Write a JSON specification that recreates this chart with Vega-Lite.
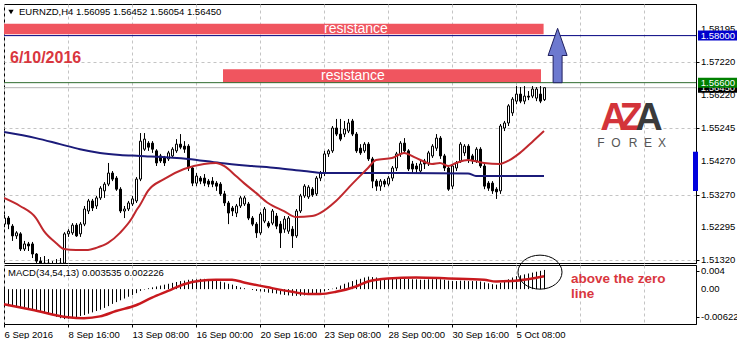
{
"$schema": "https://vega.github.io/schema/vega-lite/v6.json",
"background": "white",
"padding": {"left": -2, "top": 3, "right": -7, "bottom": 0},
"spacing": 2,
"bounds": "flush",
"config": {
 "view": {"stroke": "#000000", "strokeWidth": 1},
 "axis": {"labelFont": "Liberation Sans", "labelFontSize": 9.5, "labelColor": "#000000", "domainColor": "#000000", "tickColor": "#000000", "tickSize": 3, "labelPadding": 2, "gridColor": "#c4c4c4", "gridDash": [3, 3], "gridWidth": 1, "labelOverlap": false, "labelFlush": false, "labelBound": false},
 "scale": {"continuousPadding": 0},
 "text": {"font": "Liberation Sans"}
},
"resolve": {"scale": {"x": "independent", "y": "independent"}, "axis": {"x": "independent", "y": "independent"}},
"datasets": {
 "candles": [
{"i":0,"o":1.5239,"h":1.5266,"l":1.5230,"c":1.5257},
{"i":1,"o":1.5257,"h":1.5263,"l":1.5224,"c":1.5239},
{"i":2,"o":1.5233,"h":1.5239,"l":1.5189,"c":1.5204},
{"i":3,"o":1.5204,"h":1.5218,"l":1.5195,"c":1.5213},
{"i":4,"o":1.5210,"h":1.5215,"l":1.5159,"c":1.5165},
{"i":5,"o":1.5165,"h":1.5189,"l":1.5159,"c":1.5180},
{"i":6,"o":1.5180,"h":1.5186,"l":1.5159,"c":1.5174},
{"i":7,"o":1.5180,"h":1.5186,"l":1.5138,"c":1.5150},
{"i":8,"o":1.5150,"h":1.5153,"l":1.5120,"c":1.5129},
{"i":9,"o":1.5129,"h":1.5141,"l":1.5099,"c":1.5111},
{"i":10,"o":1.5111,"h":1.5144,"l":1.5099,"c":1.5123},
{"i":11,"o":1.5123,"h":1.5135,"l":1.5088,"c":1.5105},
{"i":12,"o":1.5105,"h":1.5129,"l":1.5094,"c":1.5117},
{"i":13,"o":1.5117,"h":1.5135,"l":1.5082,"c":1.5099},
{"i":14,"o":1.5099,"h":1.5138,"l":1.5085,"c":1.5123},
{"i":15,"o":1.5123,"h":1.5215,"l":1.5105,"c":1.5210},
{"i":16,"o":1.5210,"h":1.5224,"l":1.5201,"c":1.5218},
{"i":17,"o":1.5213,"h":1.5242,"l":1.5207,"c":1.5236},
{"i":18,"o":1.5236,"h":1.5242,"l":1.5201,"c":1.5204},
{"i":19,"o":1.5210,"h":1.5245,"l":1.5201,"c":1.5239},
{"i":20,"o":1.5239,"h":1.5293,"l":1.5233,"c":1.5284},
{"i":21,"o":1.5278,"h":1.5314,"l":1.5269,"c":1.5308},
{"i":22,"o":1.5308,"h":1.5314,"l":1.5278,"c":1.5287},
{"i":23,"o":1.5293,"h":1.5323,"l":1.5284,"c":1.5317},
{"i":24,"o":1.5317,"h":1.5352,"l":1.5311,"c":1.5346},
{"i":25,"o":1.5338,"h":1.5364,"l":1.5317,"c":1.5358},
{"i":26,"o":1.5358,"h":1.5421,"l":1.5352,"c":1.5391},
{"i":27,"o":1.5391,"h":1.5397,"l":1.5367,"c":1.5373},
{"i":28,"o":1.5376,"h":1.5382,"l":1.5338,"c":1.5343},
{"i":29,"o":1.5343,"h":1.5349,"l":1.5272,"c":1.5278},
{"i":30,"o":1.5278,"h":1.5293,"l":1.5257,"c":1.5284},
{"i":31,"o":1.5284,"h":1.5308,"l":1.5278,"c":1.5302},
{"i":32,"o":1.5299,"h":1.5323,"l":1.5293,"c":1.5314},
{"i":33,"o":1.5308,"h":1.5379,"l":1.5302,"c":1.5373},
{"i":34,"o":1.5373,"h":1.5510,"l":1.5367,"c":1.5486},
{"i":35,"o":1.5462,"h":1.5510,"l":1.5457,"c":1.5492},
{"i":36,"o":1.5480,"h":1.5486,"l":1.5457,"c":1.5468},
{"i":37,"o":1.5480,"h":1.5486,"l":1.5451,"c":1.5462},
{"i":38,"o":1.5457,"h":1.5462,"l":1.5412,"c":1.5421},
{"i":39,"o":1.5442,"h":1.5448,"l":1.5421,"c":1.5427},
{"i":40,"o":1.5436,"h":1.5442,"l":1.5412,"c":1.5421},
{"i":41,"o":1.5433,"h":1.5457,"l":1.5427,"c":1.5451},
{"i":42,"o":1.5442,"h":1.5468,"l":1.5436,"c":1.5462},
{"i":43,"o":1.5457,"h":1.5492,"l":1.5451,"c":1.5477},
{"i":44,"o":1.5477,"h":1.5507,"l":1.5462,"c":1.5468},
{"i":45,"o":1.5471,"h":1.5486,"l":1.5451,"c":1.5462},
{"i":46,"o":1.5471,"h":1.5477,"l":1.5397,"c":1.5406},
{"i":47,"o":1.5406,"h":1.5412,"l":1.5352,"c":1.5361},
{"i":48,"o":1.5361,"h":1.5391,"l":1.5352,"c":1.5382},
{"i":49,"o":1.5376,"h":1.5382,"l":1.5358,"c":1.5367},
{"i":50,"o":1.5376,"h":1.5388,"l":1.5352,"c":1.5361},
{"i":51,"o":1.5367,"h":1.5373,"l":1.5349,"c":1.5358},
{"i":52,"o":1.5367,"h":1.5379,"l":1.5349,"c":1.5358},
{"i":53,"o":1.5361,"h":1.5367,"l":1.5338,"c":1.5352},
{"i":54,"o":1.5358,"h":1.5364,"l":1.5323,"c":1.5329},
{"i":55,"o":1.5329,"h":1.5338,"l":1.5293,"c":1.5302},
{"i":56,"o":1.5302,"h":1.5308,"l":1.5239,"c":1.5272},
{"i":57,"o":1.5287,"h":1.5293,"l":1.5263,"c":1.5278},
{"i":58,"o":1.5272,"h":1.5299,"l":1.5260,"c":1.5293},
{"i":59,"o":1.5293,"h":1.5323,"l":1.5287,"c":1.5317},
{"i":60,"o":1.5299,"h":1.5323,"l":1.5293,"c":1.5317},
{"i":61,"o":1.5299,"h":1.5305,"l":1.5251,"c":1.5257},
{"i":62,"o":1.5257,"h":1.5263,"l":1.5233,"c":1.5239},
{"i":63,"o":1.5239,"h":1.5245,"l":1.5198,"c":1.5213},
{"i":64,"o":1.5213,"h":1.5275,"l":1.5207,"c":1.5269},
{"i":65,"o":1.5248,"h":1.5290,"l":1.5242,"c":1.5284},
{"i":66,"o":1.5242,"h":1.5248,"l":1.5227,"c":1.5233},
{"i":67,"o":1.5242,"h":1.5284,"l":1.5236,"c":1.5278},
{"i":68,"o":1.5263,"h":1.5272,"l":1.5224,"c":1.5233},
{"i":69,"o":1.5239,"h":1.5248,"l":1.5168,"c":1.5213},
{"i":70,"o":1.5224,"h":1.5263,"l":1.5213,"c":1.5254},
{"i":71,"o":1.5218,"h":1.5263,"l":1.5210,"c":1.5257},
{"i":72,"o":1.5224,"h":1.5233,"l":1.5168,"c":1.5204},
{"i":73,"o":1.5204,"h":1.5284,"l":1.5198,"c":1.5278},
{"i":74,"o":1.5278,"h":1.5329,"l":1.5272,"c":1.5323},
{"i":75,"o":1.5323,"h":1.5358,"l":1.5317,"c":1.5352},
{"i":76,"o":1.5320,"h":1.5355,"l":1.5314,"c":1.5349},
{"i":77,"o":1.5343,"h":1.5349,"l":1.5320,"c":1.5326},
{"i":78,"o":1.5329,"h":1.5382,"l":1.5323,"c":1.5376},
{"i":79,"o":1.5376,"h":1.5397,"l":1.5367,"c":1.5391},
{"i":80,"o":1.5391,"h":1.5457,"l":1.5382,"c":1.5448},
{"i":81,"o":1.5448,"h":1.5462,"l":1.5439,"c":1.5457},
{"i":82,"o":1.5457,"h":1.5531,"l":1.5451,"c":1.5525},
{"i":83,"o":1.5525,"h":1.5552,"l":1.5501,"c":1.5507},
{"i":84,"o":1.5507,"h":1.5552,"l":1.5486,"c":1.5492},
{"i":85,"o":1.5507,"h":1.5546,"l":1.5498,"c":1.5522},
{"i":86,"o":1.5516,"h":1.5552,"l":1.5510,"c":1.5540},
{"i":87,"o":1.5546,"h":1.5552,"l":1.5501,"c":1.5507},
{"i":88,"o":1.5507,"h":1.5513,"l":1.5451,"c":1.5457},
{"i":89,"o":1.5465,"h":1.5477,"l":1.5445,"c":1.5451},
{"i":90,"o":1.5457,"h":1.5483,"l":1.5451,"c":1.5477},
{"i":91,"o":1.5477,"h":1.5483,"l":1.5427,"c":1.5433},
{"i":92,"o":1.5433,"h":1.5439,"l":1.5346,"c":1.5367},
{"i":93,"o":1.5367,"h":1.5373,"l":1.5338,"c":1.5352},
{"i":94,"o":1.5352,"h":1.5373,"l":1.5338,"c":1.5367},
{"i":95,"o":1.5367,"h":1.5373,"l":1.5349,"c":1.5358},
{"i":96,"o":1.5358,"h":1.5382,"l":1.5352,"c":1.5376},
{"i":97,"o":1.5376,"h":1.5412,"l":1.5367,"c":1.5406},
{"i":98,"o":1.5406,"h":1.5454,"l":1.5397,"c":1.5448},
{"i":99,"o":1.5448,"h":1.5486,"l":1.5439,"c":1.5480},
{"i":100,"o":1.5480,"h":1.5495,"l":1.5451,"c":1.5457},
{"i":101,"o":1.5457,"h":1.5462,"l":1.5397,"c":1.5403},
{"i":102,"o":1.5418,"h":1.5427,"l":1.5391,"c":1.5403},
{"i":103,"o":1.5412,"h":1.5421,"l":1.5391,"c":1.5403},
{"i":104,"o":1.5397,"h":1.5427,"l":1.5391,"c":1.5418},
{"i":105,"o":1.5427,"h":1.5433,"l":1.5403,"c":1.5418},
{"i":106,"o":1.5418,"h":1.5457,"l":1.5412,"c":1.5451},
{"i":107,"o":1.5442,"h":1.5477,"l":1.5436,"c":1.5471},
{"i":108,"o":1.5465,"h":1.5507,"l":1.5457,"c":1.5495},
{"i":109,"o":1.5495,"h":1.5501,"l":1.5433,"c":1.5442},
{"i":110,"o":1.5442,"h":1.5448,"l":1.5397,"c":1.5406},
{"i":111,"o":1.5406,"h":1.5412,"l":1.5338,"c":1.5343},
{"i":112,"o":1.5352,"h":1.5418,"l":1.5343,"c":1.5412},
{"i":113,"o":1.5406,"h":1.5427,"l":1.5397,"c":1.5421},
{"i":114,"o":1.5427,"h":1.5483,"l":1.5421,"c":1.5477},
{"i":115,"o":1.5451,"h":1.5477,"l":1.5442,"c":1.5471},
{"i":116,"o":1.5471,"h":1.5477,"l":1.5421,"c":1.5433},
{"i":117,"o":1.5442,"h":1.5448,"l":1.5418,"c":1.5427},
{"i":118,"o":1.5427,"h":1.5468,"l":1.5421,"c":1.5462},
{"i":119,"o":1.5462,"h":1.5468,"l":1.5406,"c":1.5412},
{"i":120,"o":1.5412,"h":1.5418,"l":1.5343,"c":1.5352},
{"i":121,"o":1.5361,"h":1.5367,"l":1.5338,"c":1.5346},
{"i":122,"o":1.5361,"h":1.5367,"l":1.5329,"c":1.5338},
{"i":123,"o":1.5343,"h":1.5349,"l":1.5314,"c":1.5335},
{"i":124,"o":1.5338,"h":1.5537,"l":1.5329,"c":1.5531},
{"i":125,"o":1.5525,"h":1.5546,"l":1.5516,"c":1.5540},
{"i":126,"o":1.5540,"h":1.5596,"l":1.5531,"c":1.5591},
{"i":127,"o":1.5570,"h":1.5617,"l":1.5561,"c":1.5611},
{"i":128,"o":1.5605,"h":1.5650,"l":1.5596,"c":1.5626},
{"i":129,"o":1.5626,"h":1.5647,"l":1.5599,"c":1.5605},
{"i":130,"o":1.5605,"h":1.5650,"l":1.5596,"c":1.5620},
{"i":131,"o":1.5620,"h":1.5635,"l":1.5608,"c":1.5617},
{"i":132,"o":1.5620,"h":1.5650,"l":1.5614,"c":1.5641},
{"i":133,"o":1.5614,"h":1.5647,"l":1.5605,"c":1.5641},
{"i":134,"o":1.5626,"h":1.5650,"l":1.5599,"c":1.5605},
{"i":135,"o":1.56095,"h":1.56452,"l":1.56054,"c":1.5645}
 ],
 "maLong": [
{"i":0,"v":1.5513},{"i":8,"v":1.5495},{"i":14,"v":1.5477},{"i":19,"v":1.5462},{"i":24,"v":1.5451},{"i":29,"v":1.5445},{"i":34,"v":1.5442},{"i":46,"v":1.5433},{"i":54,"v":1.5421},{"i":62,"v":1.5412},{"i":68,"v":1.5406},{"i":75,"v":1.5397},{"i":80,"v":1.5391},{"i":100,"v":1.5391},{"i":116,"v":1.5390},{"i":118,"v":1.5382},{"i":135,"v":1.5382}
 ],
 "maShort": [
{"i":0,"v":1.5317},{"i":4,"v":1.5293},{"i":8,"v":1.5257},{"i":10,"v":1.5218},{"i":13,"v":1.5183},{"i":15,"v":1.5165},{"i":18,"v":1.5162},{"i":21,"v":1.5162},{"i":23,"v":1.5168},{"i":26,"v":1.5183},{"i":29,"v":1.5213},{"i":32,"v":1.5257},{"i":33,"v":1.5278},{"i":34,"v":1.5296},{"i":36,"v":1.5338},{"i":40,"v":1.5373},{"i":45,"v":1.5403},{"i":50,"v":1.5418},{"i":53,"v":1.5421},{"i":55,"v":1.5412},{"i":58,"v":1.5382},{"i":60,"v":1.5361},{"i":63,"v":1.5332},{"i":66,"v":1.5302},{"i":70,"v":1.5278},{"i":73,"v":1.5260},{"i":77,"v":1.5263},{"i":79,"v":1.5272},{"i":83,"v":1.5308},{"i":87,"v":1.5358},{"i":91,"v":1.5406},{"i":93,"v":1.5430},{"i":97,"v":1.5436},{"i":100,"v":1.5451},{"i":103,"v":1.5436},{"i":107,"v":1.5418},{"i":109,"v":1.5421},{"i":111,"v":1.5412},{"i":113,"v":1.5421},{"i":116,"v":1.5430},{"i":120,"v":1.5421},{"i":124,"v":1.5418},{"i":126,"v":1.5427},{"i":129,"v":1.5451},{"i":132,"v":1.5483},{"i":135,"v":1.5516}
 ],
 "macd": [
{"i":0,"m":-0.0037},{"i":1,"m":-0.0038},{"i":2,"m":-0.0039},{"i":3,"m":-0.0040},{"i":4,"m":-0.0042},{"i":5,"m":-0.0043},{"i":6,"m":-0.0044},{"i":7,"m":-0.0046},{"i":8,"m":-0.0048},{"i":9,"m":-0.0051},
{"i":10,"m":-0.0054},{"i":11,"m":-0.0056},{"i":12,"m":-0.0058},{"i":13,"m":-0.0062},{"i":14,"m":-0.0065},{"i":15,"m":-0.0067},{"i":16,"m":-0.0066},{"i":17,"m":-0.0065},{"i":18,"m":-0.0063},{"i":19,"m":-0.0060},
{"i":20,"m":-0.0058},{"i":21,"m":-0.0055},{"i":22,"m":-0.0052},{"i":23,"m":-0.0049},{"i":24,"m":-0.0046},{"i":25,"m":-0.0042},{"i":26,"m":-0.0038},{"i":27,"m":-0.0033},{"i":28,"m":-0.0029},{"i":29,"m":-0.0025},
{"i":30,"m":-0.0021},{"i":31,"m":-0.0017},{"i":32,"m":-0.0013},{"i":33,"m":-0.0009},{"i":34,"m":-0.0004},{"i":35,"m":-0.0001},{"i":36,"m":0.0002},{"i":37,"m":0.0004},{"i":38,"m":0.0006},{"i":39,"m":0.0008},
{"i":40,"m":0.0010},{"i":41,"m":0.0012},{"i":42,"m":0.0014},{"i":43,"m":0.0016},{"i":44,"m":0.0018},{"i":45,"m":0.0019},{"i":46,"m":0.0021},{"i":47,"m":0.0022},{"i":48,"m":0.0022},{"i":49,"m":0.0023},
{"i":50,"m":0.0023},{"i":51,"m":0.0022},{"i":52,"m":0.0021},{"i":53,"m":0.0019},{"i":54,"m":0.0017},{"i":55,"m":0.0015},{"i":56,"m":0.0012},{"i":57,"m":0.0010},{"i":58,"m":0.0007},{"i":59,"m":0.0004},
{"i":60,"m":0.0002},{"i":61,"m":0.0000},{"i":62,"m":-0.0002},{"i":63,"m":-0.0004},{"i":64,"m":-0.0005},{"i":65,"m":-0.0006},{"i":66,"m":-0.0008},{"i":67,"m":-0.0009},{"i":68,"m":-0.0010},{"i":69,"m":-0.0012},
{"i":70,"m":-0.0013},{"i":71,"m":-0.0014},{"i":72,"m":-0.0015},{"i":73,"m":-0.0015},{"i":74,"m":-0.0015},{"i":75,"m":-0.0014},{"i":76,"m":-0.0013},{"i":77,"m":-0.0012},{"i":78,"m":-0.0010},{"i":79,"m":-0.0008},
{"i":80,"m":-0.0005},{"i":81,"m":-0.0002},{"i":82,"m":0.0001},{"i":83,"m":0.0004},{"i":84,"m":0.0008},{"i":85,"m":0.0012},{"i":86,"m":0.0015},{"i":87,"m":0.0018},{"i":88,"m":0.0021},{"i":89,"m":0.0023},
{"i":90,"m":0.0026},{"i":91,"m":0.0028},{"i":92,"m":0.0027},{"i":93,"m":0.0026},{"i":94,"m":0.0025},{"i":95,"m":0.0024},{"i":96,"m":0.0024},{"i":97,"m":0.0023},{"i":98,"m":0.0023},{"i":99,"m":0.0024},
{"i":100,"m":0.0024},{"i":101,"m":0.0023},{"i":102,"m":0.0022},{"i":103,"m":0.0022},{"i":104,"m":0.0021},{"i":105,"m":0.0021},{"i":106,"m":0.0022},{"i":107,"m":0.0022},{"i":108,"m":0.0023},{"i":109,"m":0.0022},
{"i":110,"m":0.0021},{"i":111,"m":0.0019},{"i":112,"m":0.0018},{"i":113,"m":0.0018},{"i":114,"m":0.0019},{"i":115,"m":0.0019},{"i":116,"m":0.0018},{"i":117,"m":0.0018},{"i":118,"m":0.0018},{"i":119,"m":0.0017},
{"i":120,"m":0.0015},{"i":121,"m":0.0013},{"i":122,"m":0.0011},{"i":123,"m":0.0010},{"i":124,"m":0.0014},{"i":125,"m":0.0018},{"i":126,"m":0.0022},{"i":127,"m":0.0026},{"i":128,"m":0.0029},{"i":129,"m":0.0031},
{"i":130,"m":0.0033},{"i":131,"m":0.0035},{"i":132,"m":0.0037},{"i":133,"m":0.0039},{"i":134,"m":0.0041},{"i":135,"m":0.0043}
 ],
 "sig": [
{"i":0,"v":-0.0034},{"i":7,"v":-0.0046},{"i":16,"v":-0.0063},{"i":20,"v":-0.0065},{"i":24,"v":-0.0061},{"i":28,"v":-0.0049},{"i":33,"v":-0.0036},{"i":37,"v":-0.0019},{"i":41,"v":-0.0004},{"i":45,"v":0.0011},{"i":49,"v":0.0019},{"i":53,"v":0.0021},{"i":57,"v":0.0021},{"i":60,"v":0.0015},{"i":66,"v":0.0004},{"i":72,"v":-0.0006},{"i":76,"v":-0.0011},{"i":79,"v":-0.0011},{"i":83,"v":-0.0006},{"i":88,"v":0.0006},{"i":91,"v":0.0017},{"i":96,"v":0.0024},{"i":103,"v":0.0026},{"i":111,"v":0.0024},{"i":120,"v":0.0021},{"i":123,"v":0.0017},{"i":128,"v":0.0019},{"i":135,"v":0.0029}
 ],
 "bands": [
{"i1":0,"i2":134.9,"p1":1.58354,"p2":1.58039,"t":"resistance","ti":88,"tp":1.58197},
{"i1":54.75,"i2":134.25,"p1":1.56997,"p2":1.56599,"t":"resistance","ti":87.25,"tp":1.56798}
 ],
 "priceTicks": [
{"p":1.58195,"t":"1.58195"},{"p":1.5722,"t":"1.57220"},{"p":1.5622,"t":"1.56220"},{"p":1.55245,"t":"1.55245"},{"p":1.5427,"t":"1.54270"},{"p":1.5327,"t":"1.53270"},{"p":1.52295,"t":"1.52295"},{"p":1.5132,"t":"1.51320"}
 ],
 "macdTicks": [
{"v":0.004,"t":"0.004"},{"v":0,"t":"0.00"},{"v":-0.006229,"t":"-0.006229"}
 ]
},
"vconcat": [
{
 "width": 692, "height": 259,
 "layer": [
  {"data": {"name": "bands"}, "mark": {"type": "rect", "color": "#f0555f"},
   "encoding": {
    "x": {"field": "i1", "type": "quantitative", "title": null, "scale": {"domain": [0, 173], "nice": false, "zero": false, "padding": 0},
          "axis": {"values": [0,8,16,24,32,40,48,56,64,72,80,88,96,104,112,120,128,136,144,152,160,168], "labels": false, "ticks": false, "domain": false, "grid": true, "title": null}},
    "x2": {"field": "i2"},
    "y": {"field": "p1", "type": "quantitative", "title": null, "scale": {"domain": [1.51233, 1.58941], "nice": false, "zero": false, "padding": 0},
          "axis": {"orient": "right", "values": [1.58195,1.5722,1.5622,1.55245,1.5427,1.5327,1.52295,1.5132], "labels": false, "title": null, "grid": true}},
    "y2": {"field": "p2"}}},
  {"data": {"values": [{"p": 1.5645}]}, "mark": {"type": "rule", "strokeWidth": 1, "color": "#b4b4b4"},
   "encoding": {"y": {"field": "p", "type": "quantitative", "title": null}}},
  {"data": {"values": [{"p": 1.58}]}, "mark": {"type": "rule", "strokeWidth": 1, "color": "#000080"},
   "encoding": {"y": {"field": "p", "type": "quantitative", "title": null}}},
  {"data": {"values": [{"p": 1.566}]}, "mark": {"type": "rule", "strokeWidth": 1, "color": "#2f6b2f"},
   "encoding": {"y": {"field": "p", "type": "quantitative", "title": null}}},
  {"data": {"name": "bands"}, "mark": {"type": "text", "color": "#ffffff", "fontSize": 14, "align": "center", "baseline": "middle", "font": "Liberation Sans"},
   "encoding": {
    "x": {"field": "ti", "type": "quantitative", "title": null},
    "y": {"field": "tp", "type": "quantitative", "title": null},
    "text": {"field": "t"}}},
  {"data": {"name": "candles"}, "mark": {"type": "rule", "color": "#000000", "strokeWidth": 1, "clip": true, "xOffset": 0.5},
   "encoding": {
    "x": {"field": "i", "type": "quantitative", "title": null},
    "y": {"field": "l", "type": "quantitative", "title": null},
    "y2": {"field": "h"}}},
  {"data": {"name": "candles"}, "mark": {"type": "bar", "width": 2, "stroke": "#000000", "strokeWidth": 1, "clip": true, "xOffset": 0.5},
   "encoding": {
    "x": {"field": "i", "type": "quantitative", "title": null},
    "y": {"field": "o", "type": "quantitative", "title": null},
    "y2": {"field": "c"},
    "fill": {"condition": {"test": "datum.c >= datum.o", "value": "#ffffff"}, "value": "#000000"}}},
  {"data": {"name": "maLong"}, "mark": {"type": "line", "strokeWidth": 2, "interpolate": "monotone", "clip": true, "color": "#1b1b7a"},
   "encoding": {
    "x": {"field": "i", "type": "quantitative", "title": null},
    "y": {"field": "v", "type": "quantitative", "title": null}}},
  {"data": {"name": "maShort"}, "mark": {"type": "line", "strokeWidth": 2, "interpolate": "monotone", "clip": true, "color": "#c0282d"},
   "encoding": {
    "x": {"field": "i", "type": "quantitative", "title": null},
    "y": {"field": "v", "type": "quantitative", "title": null}}},
  {"data": {"values": [{"i": 138.4, "p": 1.57408}]},
   "mark": {"type": "point", "shape": "M0,-1 L0.35,0 L0.165,0 L0.165,1 L-0.165,1 L-0.165,0 L-0.35,0 Z", "size": 2959, "filled": true, "fill": "#6d79cf", "stroke": "#20205f", "strokeWidth": 1, "opacity": 1},
   "encoding": {
    "x": {"field": "i", "type": "quantitative", "title": null},
    "y": {"field": "p", "type": "quantitative", "title": null}}},
  {"data": {"values": [{"t": "6/10/2016", "i": 1.5, "p": 1.57334}]},
   "mark": {"type": "text", "color": "#d9363e", "fontSize": 16, "fontWeight": "bold", "align": "left", "baseline": "middle", "font": "Liberation Sans"},
   "encoding": {
    "x": {"field": "i", "type": "quantitative", "title": null},
    "y": {"field": "p", "type": "quantitative", "title": null},
    "text": {"field": "t"}}},
  {"data": {"values": [{"t": "A", "i": 152.5, "p": 1.5552}, {"t": "Z", "i": 156.75, "p": 1.5552}]},
   "mark": {"type": "text", "color": "#d3343a", "fontSize": 38, "fontWeight": "bold", "align": "center", "baseline": "middle", "font": "Liberation Sans"},
   "encoding": {
    "x": {"field": "i", "type": "quantitative", "title": null},
    "y": {"field": "p", "type": "quantitative", "title": null},
    "text": {"field": "t"}}},
  {"data": {"values": [{"t": "A", "i": 161.25, "p": 1.5552}]},
   "mark": {"type": "text", "color": "#3a3a3a", "fontSize": 38, "fontWeight": "bold", "align": "center", "baseline": "middle", "font": "Liberation Sans"},
   "encoding": {
    "x": {"field": "i", "type": "quantitative", "title": null},
    "y": {"field": "p", "type": "quantitative", "title": null},
    "text": {"field": "t"}}},
  {"data": {"values": [{"t": "F", "i": 149.25, "p": 1.5481}, {"t": "O", "i": 153, "p": 1.5481}, {"t": "R", "i": 157.25, "p": 1.5481}, {"t": "E", "i": 161, "p": 1.5481}, {"t": "X", "i": 164.5, "p": 1.5481}]},
   "mark": {"type": "text", "color": "#555555", "fontSize": 12, "align": "center", "baseline": "middle", "font": "Liberation Sans"},
   "encoding": {
    "x": {"field": "i", "type": "quantitative", "title": null},
    "y": {"field": "p", "type": "quantitative", "title": null},
    "text": {"field": "t"}}},
  {"data": {"values": [{"t": "EURNZD,H4  1.56095 1.56452 1.56054 1.56450", "i": 3.75, "p": 1.58703}]},
   "mark": {"type": "text", "color": "#000000", "fontSize": 9.5, "align": "left", "baseline": "middle", "font": "Liberation Sans"},
   "encoding": {
    "x": {"field": "i", "type": "quantitative", "title": null},
    "y": {"field": "p", "type": "quantitative", "title": null},
    "text": {"field": "t"}}},
  {"data": {"values": [{"i": 1.75, "p": 1.58703}]},
   "mark": {"type": "point", "shape": "triangle-down", "size": 28, "filled": true, "color": "#000000", "opacity": 1},
   "encoding": {
    "x": {"field": "i", "type": "quantitative", "title": null},
    "y": {"field": "p", "type": "quantitative", "title": null}}},
  {"data": {"name": "priceTicks"},
   "mark": {"type": "text", "color": "#000000", "fontSize": 9.5, "align": "left", "baseline": "middle", "font": "Liberation Sans"},
   "encoding": {
    "x": {"datum": 174.25, "type": "quantitative"},
    "y": {"field": "p", "type": "quantitative", "title": null},
    "text": {"field": "t"}}},
  {"data": {"values": [{"i": 172.875, "p": 1.5396}]},
   "mark": {"type": "point", "shape": "M-0.128,-1 L0.128,-1 L0.128,1 L-0.128,1 Z", "size": 1544, "filled": true, "color": "#0000dd", "opacity": 1, "strokeWidth": 0},
   "encoding": {
    "x": {"field": "i", "type": "quantitative", "title": null},
    "y": {"field": "p", "type": "quantitative", "title": null}}},
  {"data": {"values": [{"i": 178.5, "p": 1.58}]},
   "mark": {"type": "point", "shape": "M-1,-0.25 L1,-0.25 L1,0.25 L-1,0.25 Z", "size": 1600, "filled": true, "opacity": 1, "strokeWidth": 0, "color": "#0000cc"},
   "encoding": {
    "x": {"field": "i", "type": "quantitative", "title": null},
    "y": {"field": "p", "type": "quantitative", "title": null}}},
  {"data": {"values": [{"i": 174.2, "p": 1.58, "t": "1.58000"}]},
   "mark": {"type": "text", "color": "#ffffff", "fontSize": 9.5, "align": "left", "baseline": "middle", "font": "Liberation Sans"},
   "encoding": {
    "x": {"field": "i", "type": "quantitative", "title": null},
    "y": {"field": "p", "type": "quantitative", "title": null},
    "text": {"field": "t"}}},
  {"data": {"values": [{"i": 178.5, "p": 1.5645}]},
   "mark": {"type": "point", "shape": "M-1,-0.25 L1,-0.25 L1,0.25 L-1,0.25 Z", "size": 1600, "filled": true, "opacity": 1, "strokeWidth": 0, "color": "#000000"},
   "encoding": {
    "x": {"field": "i", "type": "quantitative", "title": null},
    "y": {"field": "p", "type": "quantitative", "title": null}}},
  {"data": {"values": [{"i": 174.2, "p": 1.5645, "t": "1.56450"}]},
   "mark": {"type": "text", "color": "#ffffff", "fontSize": 9.5, "align": "left", "baseline": "middle", "font": "Liberation Sans"},
   "encoding": {
    "x": {"field": "i", "type": "quantitative", "title": null},
    "y": {"field": "p", "type": "quantitative", "title": null},
    "text": {"field": "t"}}},
  {"data": {"values": [{"i": 178.5, "p": 1.566}]},
   "mark": {"type": "point", "shape": "M-1,-0.25 L1,-0.25 L1,0.25 L-1,0.25 Z", "size": 1600, "filled": true, "opacity": 1, "strokeWidth": 0, "color": "#008000"},
   "encoding": {
    "x": {"field": "i", "type": "quantitative", "title": null},
    "y": {"field": "p", "type": "quantitative", "title": null}}},
  {"data": {"values": [{"i": 174.2, "p": 1.566, "t": "1.56600"}]},
   "mark": {"type": "text", "color": "#ffffff", "fontSize": 9.5, "align": "left", "baseline": "middle", "font": "Liberation Sans"},
   "encoding": {
    "x": {"field": "i", "type": "quantitative", "title": null},
    "y": {"field": "p", "type": "quantitative", "title": null},
    "text": {"field": "t"}}}
 ]
},
{
 "width": 692, "height": 59,
 "layer": [
  {"data": {"name": "macd"}, "mark": {"type": "rule", "color": "#000000", "strokeWidth": 1, "xOffset": 0.5},
   "encoding": {
    "x": {"field": "i", "type": "quantitative", "title": null, "scale": {"domain": [0, 173], "nice": false, "zero": false, "padding": 0},
          "axis": {"values": [0,8,16,24,32,40,48,56,64,72,80,88,96,104,112,120,128,136,144,152,160,168],
                   "labelExpr": "datum.value % 16 == 0 ? ['6 Sep 2016','8 Sep 16:00','13 Sep 08:00','16 Sep 00:00','20 Sep 16:00','23 Sep 08:00','28 Sep 00:00','30 Sep 16:00','5 Oct 08:00','','',''][datum.value / 16] : ''",
                   "labelAlign": "left", "labelPadding": 2, "domain": false, "grid": true, "title": null, "labelOverlap": false,
                   "tickColor": {"condition": {"test": "datum.value % 16 == 0 && datum.value <= 128", "value": "#000000"}, "value": "transparent"}}},
    "y": {"field": "m", "type": "quantitative", "title": null, "scale": {"domain": [-0.0078, 0.0054], "nice": false, "zero": false, "padding": 0},
          "axis": {"orient": "right", "values": [0.004, 0, -0.006229], "labels": false, "grid": false, "title": null}},
    "y2": {"datum": 0}}},
  {"data": {"name": "sig"}, "mark": {"type": "line", "color": "#c8191e", "strokeWidth": 2.5, "interpolate": "monotone"},
   "encoding": {
    "x": {"field": "i", "type": "quantitative", "title": null},
    "y": {"field": "v", "type": "quantitative", "title": null}}},
  {"data": {"name": "macdTicks"},
   "mark": {"type": "text", "color": "#000000", "fontSize": 9.5, "align": "left", "baseline": "middle", "font": "Liberation Sans"},
   "encoding": {
    "x": {"datum": 174.25, "type": "quantitative"},
    "y": {"field": "v", "type": "quantitative", "title": null},
    "text": {"field": "t"}}},
  {"data": {"values": [{"t": "MACD(34,54,13) 0.003535 0.002226", "i": 1, "v": 0.0036}]},
   "mark": {"type": "text", "color": "#000000", "fontSize": 9.5, "align": "left", "baseline": "middle", "font": "Liberation Sans"},
   "encoding": {
    "x": {"field": "i", "type": "quantitative", "title": null},
    "y": {"field": "v", "type": "quantitative", "title": null},
    "text": {"field": "t"}}},
  {"data": {"values": [{"i": 134, "v": 0.0038}]},
   "mark": {"type": "point", "shape": "M-1,0 A1,0.773 0 1,1 1,0 A1,0.773 0 1,1 -1,0 Z", "size": 1936, "filled": false, "stroke": "#000000", "strokeWidth": 1, "opacity": 1},
   "encoding": {
    "x": {"field": "i", "type": "quantitative", "title": null},
    "y": {"field": "v", "type": "quantitative", "title": null}}},
  {"data": {"values": [{"t": "above the zero", "i": 141.75, "v": 0.0023}, {"t": "line", "i": 141.75, "v": -0.0011}]},
   "mark": {"type": "text", "color": "#d9363e", "fontSize": 13.5, "fontWeight": "bold", "align": "left", "baseline": "middle", "font": "Liberation Sans"},
   "encoding": {
    "x": {"field": "i", "type": "quantitative", "title": null},
    "y": {"field": "v", "type": "quantitative", "title": null},
    "text": {"field": "t"}}}
 ]
}
]
}
